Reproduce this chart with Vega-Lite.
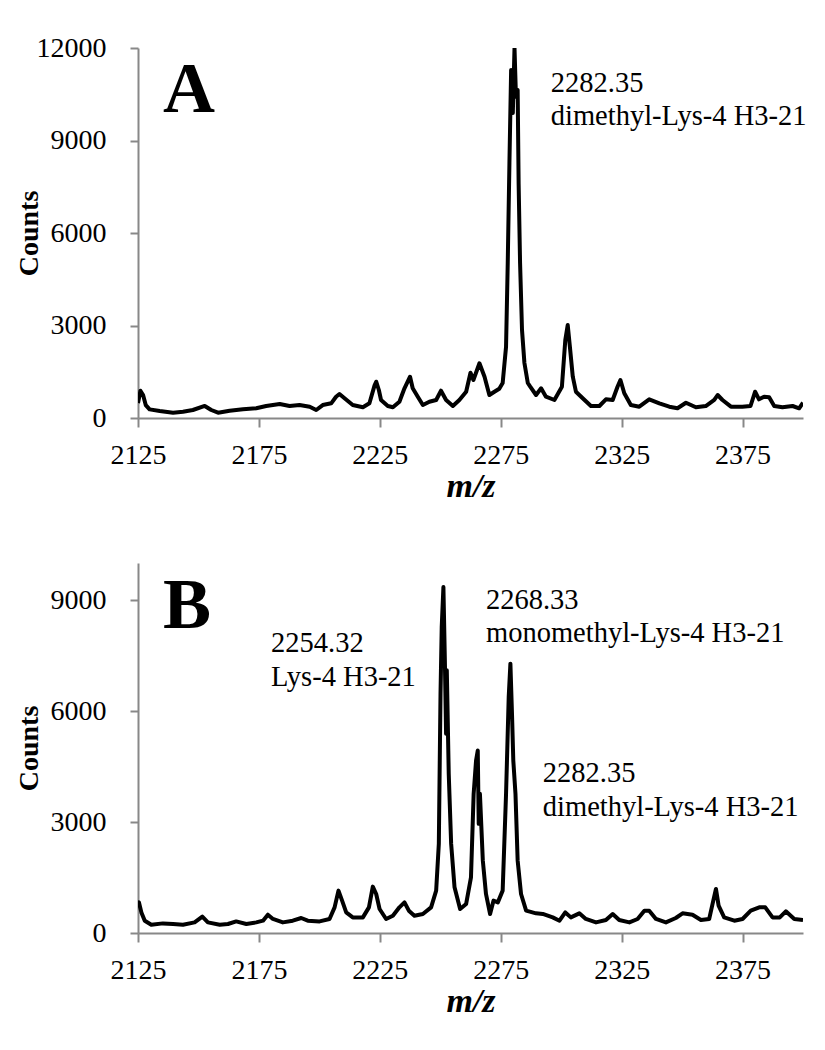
{
  "$schema": "https://vega.github.io/schema/vega-lite/v6.json",
  "background": "white",
  "padding": {"top": 34, "left": 15, "right": 5, "bottom": 5},
  "spacing": 145,
  "bounds": "flush",
  "config": {
    "view": {"stroke": null},
    "axis": {
      "grid": false,
      "domainColor": "#888888",
      "domainWidth": 2,
      "tickColor": "#888888",
      "tickWidth": 2,
      "labelFont": "Liberation Serif",
      "labelFontSize": 28,
      "labelColor": "black",
      "labelFlush": false,
      "titleFont": "Liberation Serif",
      "titleFontWeight": "bold",
      "titleColor": "black"
    },
    "text": {"font": "Liberation Serif", "color": "black"}
  },
  "datasets": {
    "specA": [
      {"mz":2125.0,"c":486},{"mz":2126.0,"c":885},{"mz":2127.1,"c":745},{"mz":2128.2,"c":420},{"mz":2129.8,"c":280},
      {"mz":2134.0,"c":227},{"mz":2139.5,"c":172},{"mz":2143.6,"c":205},{"mz":2147.7,"c":260},{"mz":2152.6,"c":390},
      {"mz":2155.3,"c":260},{"mz":2158.1,"c":172},{"mz":2162.9,"c":237},{"mz":2168.4,"c":282},{"mz":2173.9,"c":315},
      {"mz":2178.0,"c":390},{"mz":2183.6,"c":454},{"mz":2187.7,"c":390},{"mz":2191.8,"c":420},{"mz":2196.0,"c":367},
      {"mz":2198.7,"c":260},{"mz":2201.4,"c":420},{"mz":2204.9,"c":476},{"mz":2206.9,"c":690},{"mz":2208.3,"c":778},
      {"mz":2210.4,"c":640},{"mz":2213.8,"c":420},{"mz":2218.0,"c":347},{"mz":2220.7,"c":476},{"mz":2222.8,"c":1050},
      {"mz":2223.5,"c":1177},{"mz":2224.6,"c":908},{"mz":2225.5,"c":584},{"mz":2228.3,"c":389},{"mz":2230.4,"c":347},
      {"mz":2233.1,"c":529},{"mz":2235.2,"c":963},{"mz":2237.5,"c":1339},{"mz":2238.6,"c":963},{"mz":2240.7,"c":691},
      {"mz":2242.8,"c":422},{"mz":2245.5,"c":529},{"mz":2248.3,"c":584},{"mz":2250.3,"c":885},{"mz":2252.4,"c":584},
      {"mz":2255.2,"c":389},{"mz":2257.9,"c":584},{"mz":2260.7,"c":853},{"mz":2262.5,"c":1469},{"mz":2263.7,"c":1232},
      {"mz":2266.2,"c":1774},{"mz":2268.3,"c":1339},{"mz":2270.3,"c":746},{"mz":2272.4,"c":853},{"mz":2274.4,"c":950},
      {"mz":2275.8,"c":1135},{"mz":2277.2,"c":2312},{"mz":2277.9,"c":5027},{"mz":2278.6,"c":8270},{"mz":2279.3,"c":11286},
      {"mz":2280.0,"c":9891},{"mz":2280.7,"c":12000},{"mz":2281.3,"c":10420},{"mz":2282.0,"c":10637},{"mz":2282.4,"c":7612},
      {"mz":2283.0,"c":5027},{"mz":2283.8,"c":2854},{"mz":2284.8,"c":1784},{"mz":2286.2,"c":1135},{"mz":2287.2,"c":1015},
      {"mz":2289.6,"c":746},{"mz":2291.7,"c":963},{"mz":2293.7,"c":691},{"mz":2297.2,"c":584},{"mz":2300.3,"c":1015},
      {"mz":2301.7,"c":2529},{"mz":2302.7,"c":3016},{"mz":2303.6,"c":2312},{"mz":2304.8,"c":1339},{"mz":2306.1,"c":853},
      {"mz":2308.9,"c":639},{"mz":2312.3,"c":389},{"mz":2315.8,"c":389},{"mz":2318.5,"c":606},{"mz":2321.3,"c":584},
      {"mz":2323.3,"c":1015},{"mz":2324.5,"c":1232},{"mz":2326.1,"c":801},{"mz":2328.8,"c":422},{"mz":2332.3,"c":367},
      {"mz":2336.4,"c":606},{"mz":2340.6,"c":477},{"mz":2344.7,"c":367},{"mz":2348.1,"c":315},{"mz":2351.6,"c":496},
      {"mz":2355.7,"c":347},{"mz":2359.8,"c":389},{"mz":2363.3,"c":584},{"mz":2364.7,"c":746},{"mz":2366.7,"c":584},
      {"mz":2370.2,"c":367},{"mz":2374.9,"c":367},{"mz":2378.3,"c":389},{"mz":2380.2,"c":853},{"mz":2381.8,"c":606},
      {"mz":2383.9,"c":691},{"mz":2386.0,"c":671},{"mz":2388.1,"c":389},{"mz":2391.5,"c":347},{"mz":2395.7,"c":389},
      {"mz":2398.4,"c":315},{"mz":2400.0,"c":496}
    ],
    "specB": [
      {"mz":2125.0,"c":750},{"mz":2125.4,"c":828},{"mz":2126.4,"c":557},{"mz":2127.8,"c":333},{"mz":2130.5,"c":225},
      {"mz":2135.3,"c":260},{"mz":2139.5,"c":244},{"mz":2143.6,"c":225},{"mz":2148.4,"c":287},{"mz":2151.6,"c":441},
      {"mz":2153.9,"c":287},{"mz":2158.8,"c":225},{"mz":2162.2,"c":244},{"mz":2165.6,"c":314},{"mz":2169.8,"c":244},
      {"mz":2173.9,"c":287},{"mz":2176.7,"c":333},{"mz":2178.7,"c":495},{"mz":2180.8,"c":379},{"mz":2184.9,"c":287},
      {"mz":2189.0,"c":333},{"mz":2192.5,"c":406},{"mz":2195.2,"c":333},{"mz":2200.1,"c":314},{"mz":2204.2,"c":379},
      {"mz":2206.3,"c":693},{"mz":2207.9,"c":1145},{"mz":2209.4,"c":874},{"mz":2211.1,"c":557},{"mz":2213.8,"c":422},
      {"mz":2218.0,"c":422},{"mz":2220.5,"c":693},{"mz":2222.1,"c":1253},{"mz":2223.5,"c":1055},{"mz":2224.9,"c":649},
      {"mz":2227.6,"c":379},{"mz":2230.4,"c":468},{"mz":2233.1,"c":693},{"mz":2235.2,"c":828},{"mz":2237.0,"c":603},
      {"mz":2239.3,"c":468},{"mz":2242.8,"c":514},{"mz":2246.2,"c":693},{"mz":2248.3,"c":1145},{"mz":2249.4,"c":2408},
      {"mz":2250.1,"c":6467},{"mz":2250.6,"c":8270},{"mz":2251.3,"c":9352},{"mz":2251.9,"c":7369},{"mz":2252.4,"c":5385},
      {"mz":2252.7,"c":7098},{"mz":2253.5,"c":4303},{"mz":2254.5,"c":2408},{"mz":2255.9,"c":1234},{"mz":2258.2,"c":649},
      {"mz":2260.7,"c":785},{"mz":2262.7,"c":1505},{"mz":2263.8,"c":3761},{"mz":2264.8,"c":4662},{"mz":2265.5,"c":4933},
      {"mz":2265.9,"c":2950},{"mz":2266.4,"c":3761},{"mz":2267.6,"c":1956},{"mz":2268.9,"c":1055},{"mz":2270.6,"c":514},
      {"mz":2272.0,"c":874},{"mz":2273.8,"c":828},{"mz":2275.8,"c":1145},{"mz":2277.2,"c":3761},{"mz":2278.3,"c":6375},
      {"mz":2279.0,"c":7279},{"mz":2279.7,"c":5834},{"mz":2280.2,"c":4662},{"mz":2281.1,"c":3761},{"mz":2282.0,"c":1956},
      {"mz":2283.4,"c":1055},{"mz":2285.5,"c":603},{"mz":2289.6,"c":531},{"mz":2292.4,"c":514},{"mz":2296.5,"c":422},
      {"mz":2299.3,"c":333},{"mz":2301.7,"c":557},{"mz":2304.0,"c":422},{"mz":2307.5,"c":531},{"mz":2310.2,"c":379},
      {"mz":2314.4,"c":287},{"mz":2318.5,"c":352},{"mz":2321.3,"c":514},{"mz":2324.0,"c":352},{"mz":2328.2,"c":287},
      {"mz":2331.6,"c":379},{"mz":2334.4,"c":603},{"mz":2336.4,"c":603},{"mz":2339.2,"c":379},{"mz":2343.3,"c":287},
      {"mz":2347.4,"c":406},{"mz":2350.2,"c":531},{"mz":2354.3,"c":495},{"mz":2357.8,"c":352},{"mz":2361.2,"c":379},
      {"mz":2362.9,"c":874},{"mz":2364.0,"c":1191},{"mz":2365.1,"c":739},{"mz":2367.4,"c":422},{"mz":2371.6,"c":333},
      {"mz":2375.0,"c":379},{"mz":2378.4,"c":603},{"mz":2381.9,"c":693},{"mz":2384.4,"c":693},{"mz":2387.4,"c":422},
      {"mz":2390.4,"c":422},{"mz":2392.9,"c":585},{"mz":2396.4,"c":379},{"mz":2400.0,"c":352}
    ]
  },
  "vconcat": [
    {
      "width": 665,
      "height": 370,
      "layer": [
        {
          "data": {"name": "specA"},
          "mark": {"type": "line", "color": "black", "strokeWidth": 4, "strokeJoin": "round", "clip": true},
          "encoding": {
            "x": {"field": "mz", "type": "quantitative",
                  "scale": {"domain": [2125, 2400], "nice": false, "zero": false},
                  "axis": {"title": "m/z", "values": [2125, 2175, 2225, 2275, 2325, 2375], "format": "d",
                           "tickSize": 9, "labelPadding": 14, "titleFontStyle": "italic", "titleFontSize": 34, "titlePadding": 0}},
            "y": {"field": "c", "type": "quantitative",
                  "scale": {"domain": [0, 12000], "nice": false},
                  "axis": {"title": "Counts", "values": [0, 3000, 6000, 9000, 12000], "format": "d",
                           "tickSize": 8, "labelPadding": 24, "titleFontSize": 28, "titleX": -95}}
          }
        },
        {
          "data": {"values": [{"mz": 2135.3, "c": 9924, "t": "A"}]},
          "mark": {"type": "text", "align": "left", "baseline": "alphabetic", "fontSize": 72, "fontWeight": "bold"},
          "encoding": {"x": {"field": "mz", "type": "quantitative"}, "y": {"field": "c", "type": "quantitative"}, "text": {"field": "t"}}
        },
        {
          "data": {"values": [
            {"mz": 2295.7, "c": 10572, "t": "2282.35"},
            {"mz": 2295.7, "c": 9502, "t": "dimethyl-Lys-4 H3-21"}
          ]},
          "mark": {"type": "text", "align": "left", "baseline": "alphabetic", "fontSize": 28.5},
          "encoding": {"x": {"field": "mz", "type": "quantitative"}, "y": {"field": "c", "type": "quantitative"}, "text": {"field": "t"}}
        }
      ]
    },
    {
      "width": 665,
      "height": 370,
      "layer": [
        {
          "data": {"name": "specB"},
          "mark": {"type": "line", "color": "black", "strokeWidth": 4, "strokeJoin": "round", "clip": true},
          "encoding": {
            "x": {"field": "mz", "type": "quantitative",
                  "scale": {"domain": [2125, 2400], "nice": false, "zero": false},
                  "axis": {"title": "m/z", "values": [2125, 2175, 2225, 2275, 2325, 2375], "format": "d",
                           "tickSize": 9, "labelPadding": 14, "titleFontStyle": "italic", "titleFontSize": 34, "titlePadding": 0}},
            "y": {"field": "c", "type": "quantitative",
                  "scale": {"domain": [0, 10000], "nice": false},
                  "axis": {"title": "Counts", "values": [0, 3000, 6000, 9000], "format": "d",
                           "tickSize": 8, "labelPadding": 24, "titleFontSize": 28, "titleX": -95}}
          }
        },
        {
          "data": {"values": [{"mz": 2135.3, "c": 8234, "t": "B"}]},
          "mark": {"type": "text", "align": "left", "baseline": "alphabetic", "fontSize": 72, "fontWeight": "bold"},
          "encoding": {"x": {"field": "mz", "type": "quantitative"}, "y": {"field": "c", "type": "quantitative"}, "text": {"field": "t"}}
        },
        {
          "data": {"values": [
            {"mz": 2180.0, "c": 7593, "t": "2254.32"},
            {"mz": 2180.0, "c": 6673, "t": "Lys-4 H3-21"},
            {"mz": 2268.9, "c": 8767, "t": "2268.33"},
            {"mz": 2268.9, "c": 7864, "t": "monomethyl-Lys-4 H3-21"},
            {"mz": 2292.4, "c": 4094, "t": "2282.35"},
            {"mz": 2292.4, "c": 3174, "t": "dimethyl-Lys-4 H3-21"}
          ]},
          "mark": {"type": "text", "align": "left", "baseline": "alphabetic", "fontSize": 28.5},
          "encoding": {"x": {"field": "mz", "type": "quantitative"}, "y": {"field": "c", "type": "quantitative"}, "text": {"field": "t"}}
        }
      ]
    }
  ]
}
